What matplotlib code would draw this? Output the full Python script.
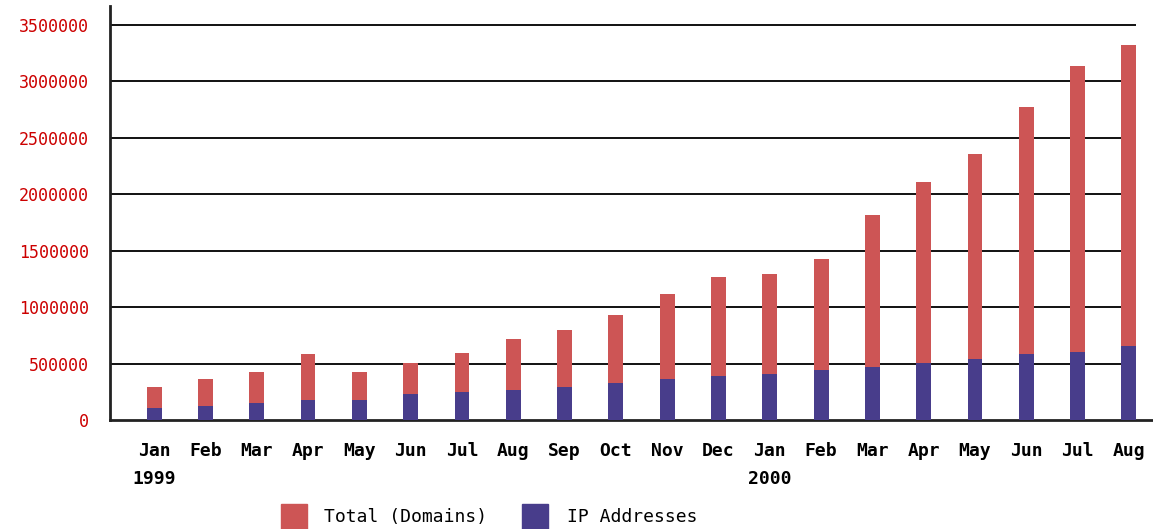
import numpy as np
import matplotlib
matplotlib.use("Agg")
import matplotlib.pyplot as plt
from matplotlib.patches import Rectangle

# Monthly survey values, Jan 1999 .. Aug 2000
MONTHS = ["Jan", "Feb", "Mar", "Apr", "May", "Jun", "Jul", "Aug", "Sep", "Oct",
          "Nov", "Dec", "Jan", "Feb", "Mar", "Apr", "May", "Jun", "Jul", "Aug"]
YEARS = {0: "1999", 12: "2000"}
TOTAL_DOMAINS = [293000, 359000, 422000, 585000, 422000, 505000, 590000, 720000,
                 800000, 930000, 1112000, 1270000, 1295000, 1430000, 1815000,
                 2110000, 2358000, 2773000, 3134000, 3322000]
IP_ADDRESSES = [106000, 121000, 149000, 181000, 181000, 230000, 246000, 263000,
                295000, 328000, 362000, 391000, 406000, 439000, 472000,
                507000, 537000, 588000, 606000, 654000]
Y_TICKS = [0, 500000, 1000000, 1500000, 2000000, 2500000, 3000000, 3500000]

RED = "#CD5555"
BLUE = "#483D8B"
MONO = "DejaVu Sans Mono"

fig = plt.figure(figsize=(11.53, 5.29), dpi=100)
ax = fig.add_axes([110 / 1153, 1 - 420 / 529, 1 - 110 / 1153, (420 - 6) / 529])

x = np.arange(len(MONTHS))
w = 0.29

# gridlines stop at the right edge of the last bar
ax.hlines(Y_TICKS[1:], -0.86, x[-1] + w / 2, color="#111111", lw=1.4, zorder=1)

ax.bar(x, TOTAL_DOMAINS, width=w, color=RED, zorder=2)
ax.bar(x, IP_ADDRESSES, width=w, color=BLUE, zorder=3)

ax.set_xlim(-0.86, 19.47)
ax.set_ylim(0, 3668000)

for s in ["top", "right"]:
    ax.spines[s].set_visible(False)
for s in ["left", "bottom"]:
    ax.spines[s].set_linewidth(2)
    ax.spines[s].set_color("#222222")

ax.set_yticks(Y_TICKS)
ax.set_yticklabels([str(v) for v in Y_TICKS], fontfamily=MONO, fontsize=12,
                   color="#CC0000")
ax.tick_params(axis="y", length=0, pad=15)

labels = [m + ("\n" + YEARS[i] if i in YEARS else "") for i, m in enumerate(MONTHS)]
ax.set_xticks(x)
ax.set_xticklabels(labels, fontfamily=MONO, fontsize=13, fontweight="bold",
                   va="top")
ax.tick_params(axis="x", length=0, pad=15.5)
for t in ax.get_xticklabels():
    t.set_linespacing(1.75)

# legend along the bottom
fig.add_artist(Rectangle((281 / 1153, 0), 26 / 1153, 25 / 529,
                         transform=fig.transFigure, color=RED))
fig.text(324 / 1153, 1 - 517 / 529, "Total (Domains)", fontfamily=MONO,
         fontsize=13, va="center", ha="left")
fig.add_artist(Rectangle((522 / 1153, 0), 26 / 1153, 25 / 529,
                         transform=fig.transFigure, color=BLUE))
fig.text(567 / 1153, 1 - 517 / 529, "IP Addresses", fontfamily=MONO,
         fontsize=13, va="center", ha="left")

fig.savefig("out.png", dpi=100)
